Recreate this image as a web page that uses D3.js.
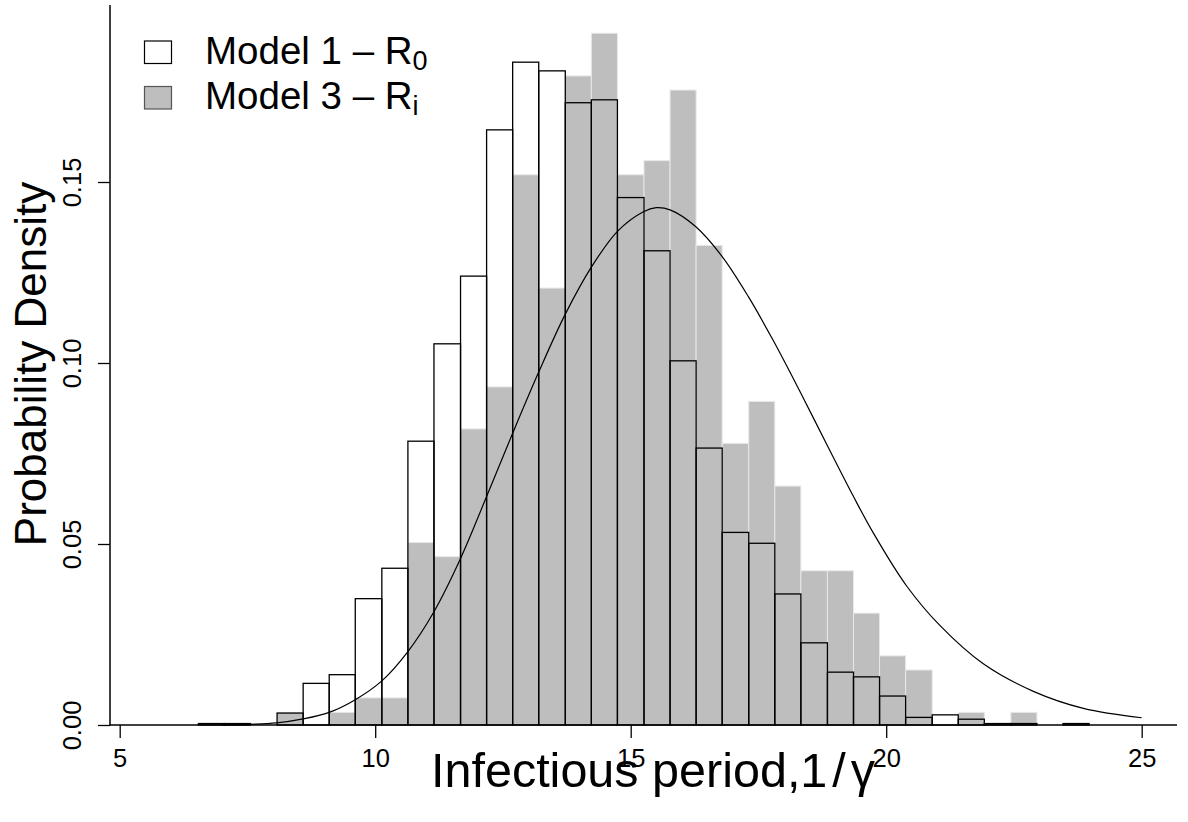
<!DOCTYPE html>
<html>
<head>
<meta charset="utf-8">
<title>Infectious period</title>
<script src="https://cdn.jsdelivr.net/npm/d3@7"></script>
<style>
  body { margin: 0; background: #fff; }
  text { font-family: "Liberation Sans", Arial, Helvetica, sans-serif; fill: #000; }
</style>
</head>
<body>
<div id="chart"></div>
<script>
// histogram breaks (shared by both models)
var breaks = [6.54, 7.05, 7.56, 8.08, 8.59, 9.10, 9.61, 10.13, 10.64, 11.15, 11.67,
              12.18, 12.69, 13.20, 13.72, 14.23, 14.74, 15.26, 15.77, 16.28, 16.79,
              17.31, 17.82, 18.33, 18.85, 19.36, 19.87, 20.38, 20.90, 21.41, 21.92,
              22.44, 22.95, 23.46, 23.97];

// densities per bin, model 1 (outlined) and model 3 (grey)
var model1 = [0.0004, 0.0004, 0, 0.0033, 0.0115, 0.0139, 0.0349, 0.0433, 0.0784, 0.1053,
              0.1240, 0.1644, 0.1831, 0.1807, 0.1719, 0.1727, 0.1457, 0.1310, 0.1006, 0.0765,
              0.0532, 0.0502, 0.0362, 0.0227, 0.0146, 0.0133, 0.0080, 0.0021, 0.0028, 0.0016,
              0.0004, 0.0004, 0, 0.0004];
var model3 = [0, 0, 0, 0.0034, 0, 0.0035, 0.0075, 0.0075, 0.0504, 0.0465,
              0.0818, 0.0934, 0.1520, 0.1207, 0.1793, 0.1911, 0.1520, 0.1559, 0.1754, 0.1325,
              0.0778, 0.0894, 0.0660, 0.0426, 0.0426, 0.0309, 0.0191, 0.0152, 0, 0.0035,
              0, 0.0035, 0, 0];

// prior curve
var curveX = [7.0, 7.55, 8.07, 8.59, 9.10, 9.61, 10.13, 10.64, 11.15, 11.67, 12.18, 12.69,
              13.20, 13.72, 14.23, 14.75, 15.25, 15.50, 15.77, 16.27, 16.79, 17.30, 17.79,
              18.31, 18.84, 19.36, 19.75, 20.40, 21.05, 21.90, 22.88, 23.86, 25.0];
var curveY = [0, 0.0002, 0.0006, 0.0017, 0.0035, 0.0070, 0.0122, 0.0203, 0.0313, 0.0460,
              0.0631, 0.0806, 0.0975, 0.1135, 0.1265, 0.1365, 0.1418, 0.1429, 0.1423, 0.1377,
              0.1294, 0.1184, 0.1062, 0.0922, 0.0774, 0.0631, 0.0530, 0.0384, 0.0275, 0.0169,
              0.0093, 0.0046, 0.0020];

var xTicks = [5, 10, 15, 20, 25];
var yTicks = [0, 0.05, 0.10, 0.15];
var legendLabels = [["Model 1 \u2013 R", "0"], ["Model 3 \u2013 R", "i"]];

var width = 1188, height = 822;

window.onload = function() {

    var svg = d3.select("#chart").append("svg")
        .attr("width", width)
        .attr("height", height);

    var x = d3.scaleLinear().domain([5, 25]).range([119.7, 1141.7]);
    var y = d3.scaleLinear().domain([0, 0.15]).range([725, 182]);

    var bins = model1.map(function(d, i) {
        return { x0: breaks[i], x1: breaks[i + 1], m1: d, m3: model3[i] };
    });

    // grey bars (model 3) go underneath
    svg.append("g").selectAll("rect")
        .data(bins.filter(function(d) { return d.m3 > 0; }))
        .enter().append("rect")
        .attr("x", function(d) { return x(d.x0); })
        .attr("width", function(d) { return x(d.x1) - x(d.x0); })
        .attr("y", function(d) { return y(d.m3); })
        .attr("height", function(d) { return y(0) - y(d.m3); })
        .style("fill", "#bebebe")
        .style("stroke", "#e8e8e8")
        .style("stroke-width", 1);

    // model 1 outlines on top
    svg.append("g").selectAll("rect")
        .data(bins)
        .enter().append("rect")
        .attr("x", function(d) { return x(d.x0); })
        .attr("width", function(d) { return x(d.x1) - x(d.x0); })
        .attr("y", function(d) { return y(d.m1); })
        .attr("height", function(d) { return y(0) - y(d.m1); })
        .style("fill", "none")
        .style("stroke", "#000")
        .style("stroke-width", 1.3);

    // curve
    var line = d3.line()
        .x(function(d) { return x(d[0]); })
        .y(function(d) { return y(d[1]); })
        .curve(d3.curveCatmullRom.alpha(0.5));

    svg.append("path")
        .datum(d3.zip(curveX, curveY))
        .attr("d", line)
        .style("fill", "none")
        .style("stroke", "#000")
        .style("stroke-width", 1.2);

    // x axis
    var xAxis = svg.append("g")
        .attr("transform", "translate(0,725)")
        .call(d3.axisBottom(x).tickValues(xTicks).tickSize(13).tickPadding(11));
    xAxis.select(".domain").remove();
    xAxis.selectAll("line").style("stroke-width", 1.3);
    xAxis.selectAll("text")
        .style("font-size", "25.5px")
        .style("font-family", "Liberation Sans, Arial, sans-serif");

    svg.append("line")
        .attr("x1", 109.5).attr("x2", 1177)
        .attr("y1", 725).attr("y2", 725)
        .style("stroke", "#000").style("stroke-width", 1.5);

    // y axis
    var yAxis = svg.append("g")
        .attr("transform", "translate(110,0)")
        .call(d3.axisLeft(y).tickValues(yTicks).tickFormat(d3.format(".2f")).tickSize(12));
    yAxis.select(".domain").remove();
    yAxis.selectAll("line").style("stroke-width", 1.3);
    yAxis.selectAll("text")
        .attr("x", null).attr("dy", null)
        .attr("transform", "translate(-29,0) rotate(-90)")
        .style("text-anchor", "middle")
        .style("font-size", "25.5px")
        .style("font-family", "Liberation Sans, Arial, sans-serif");

    svg.append("line")
        .attr("x1", 110).attr("x2", 110)
        .attr("y1", 5).attr("y2", 725.5)
        .style("stroke", "#000").style("stroke-width", 1.5);

    // axis titles
    svg.append("text")
        .attr("transform", "translate(46,364) rotate(-90)")
        .style("text-anchor", "middle")
        .style("font-size", "44px")
        .text("Probability Density");

    var xl = svg.append("text")
        .attr("x", 431)
        .attr("y", 787)
        .style("font-size", "48.5px");
    xl.append("tspan").text("Infectious period,1");
    xl.append("tspan").attr("dx", 5).text("/");
    xl.append("tspan").attr("dx", 5).text("\u03b3");

    // legend
    var legend = svg.selectAll(".legend")
        .data(legendLabels)
        .enter().append("g")
        .attr("class", "legend")
        .attr("transform", function(d, i) { return "translate(0," + i * 45.5 + ")"; });

    legend.append("rect")
        .attr("x", 144.5)
        .attr("y", 41)
        .attr("width", 27)
        .attr("height", 22.5)
        .style("fill", function(d, i) { return i == 0 ? "#fff" : "#bebebe"; })
        .style("stroke", function(d, i) { return i == 0 ? "#000" : "#555"; })
        .style("stroke-width", 1.2);

    var lt = legend.append("text")
        .attr("x", 205)
        .attr("y", 63.5)
        .style("font-size", "38.5px");
    lt.append("tspan").text(function(d) { return d[0]; });
    lt.append("tspan")
        .attr("dy", 6)
        .style("font-size", "27px")
        .text(function(d) { return d[1]; });
};
</script>
</body>
</html>
